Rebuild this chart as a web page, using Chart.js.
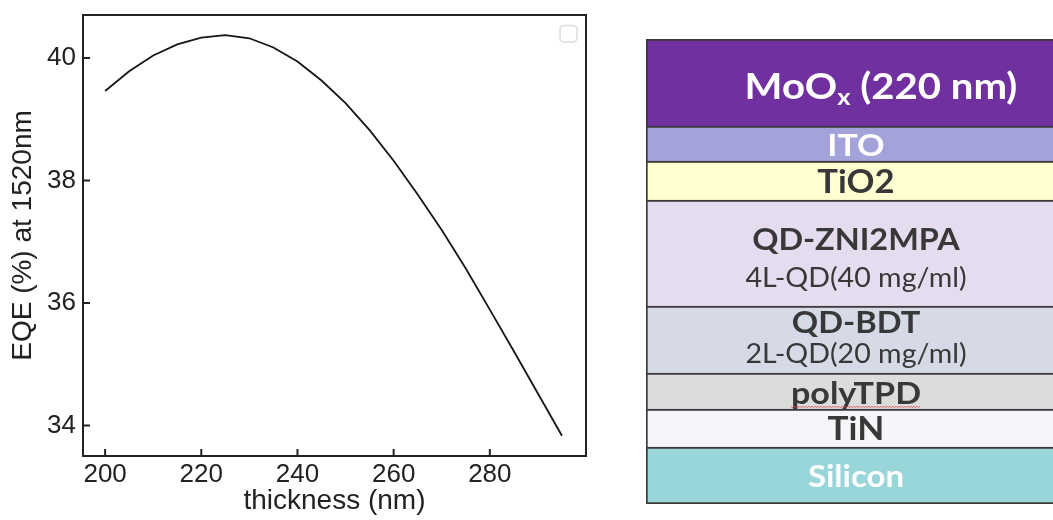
<!DOCTYPE html>
<html>
<head>
<meta charset="utf-8">
<script src="https://cdn.jsdelivr.net/npm/chart.js@4/dist/chart.umd.min.js"></script>
<style>
  html, body { margin: 0; padding: 0; background: #fff; }
  body { width: 1053px; height: 520px; overflow: hidden; position: relative; }
  #plotBox { position: absolute; left: 0; top: 0; width: 600px; height: 520px; }
  #stackBox { position: absolute; left: 646px; top: 0; width: 420px; height: 520px; }
</style>
</head>
<body>
<div id="plotBox"><canvas id="eqeChart" width="600" height="520"></canvas></div>
<div id="stackBox"><canvas id="stackChart" width="420" height="520"></canvas></div>
<script>
// ---- EQE vs MoOx thickness ----
const thickness = [200, 205, 210, 215, 220, 225, 230, 235, 240, 245, 250, 255, 260, 265, 270, 275, 280, 285, 290, 295];
const eqe = [39.46, 39.78, 40.04, 40.22, 40.33, 40.37, 40.32, 40.17, 39.94, 39.63, 39.26, 38.82, 38.32, 37.77, 37.19, 36.56, 35.89, 35.21, 34.52, 33.83];
const xTicks = [200, 220, 240, 260, 280];
const yTicks = [34, 36, 38, 40];
const xTitle = 'thickness (nm)';
const yTitle = 'EQE (%) at 1520nm';

// ---- device layer stack, listed bottom to top ----
const layerNames = ['Silicon', 'TiN', 'polyTPD', 'QD-BDT', 'QD-ZNI2MPA', 'TiO2', 'ITO', 'MoO_x (220 nm)'];
const layerNotes = ['', '', '', '2L-QD(20 mg/ml)', '4L-QD(40 mg/ml)', '', '', ''];
const layerThickness = [57, 38, 36, 67, 106, 39, 35, 87];

// layer styling
const layerFill = ['#99d6d9', '#f6f6fa', '#dcdcda', '#d5dae6', '#e6dcef', '#ffffd2', '#a3a3d9', '#7030a0'];
const layerInk = ['#ffffff', '#383838', '#383838', '#383838', '#383838', '#383838', '#ffffff', '#ffffff'];
const layerFontSize = [30, 32, 31, 29.7, 29.5, 31.5, 31, 36.5];
const noteFontSize = 26;
const textStretch = 1.1;
// [dx of label, dy of name, dy of note] relative to the layer centre
const labelShift = [[0, 1, 0], [0, 0, 0], [0, 2, 0], [0, -17, 14], [0, -14, 25], [0, 1, 0], [0, 1, 0], [25, 3, 0]];
const labelDecor = ['', '', 'wavy', '', '', '', '', ''];

const sansFont = "'Liberation Sans', Arial, sans-serif";
const ink = '#222222';

// frame, inward tick marks and the empty legend box
const framePlugin = {
  id: 'frameTicks',
  afterDraw(chart) {
    const { ctx, chartArea: a, scales } = chart;
    ctx.save();
    ctx.strokeStyle = ink;
    ctx.lineWidth = 2;
    ctx.strokeRect(a.left, a.top, a.right - a.left, a.bottom - a.top);
    ctx.beginPath();
    xTicks.forEach(v => {
      const px = scales.x.getPixelForValue(v);
      ctx.moveTo(px, a.bottom);
      ctx.lineTo(px, a.bottom - 7);
    });
    yTicks.forEach(v => {
      const py = scales.y.getPixelForValue(v);
      ctx.moveTo(a.left, py);
      ctx.lineTo(a.left + 7, py);
    });
    ctx.stroke();
    // empty legend frame
    ctx.strokeStyle = '#dcdcdc';
    ctx.lineWidth = 1.5;
    ctx.beginPath();
    ctx.roundRect(a.right - 26, a.top + 10.5, 17, 16.5, 4);
    ctx.stroke();
    ctx.restore();
  }
};

function noEdgePadding(s) {
  s.paddingTop = 0; s.paddingBottom = 0; s.paddingLeft = 0; s.paddingRight = 0;
}

new Chart(document.getElementById('eqeChart'), {
  type: 'line',
  data: {
    datasets: [{
      data: thickness.map((t, i) => ({ x: t, y: eqe[i] })),
      borderColor: '#151515',
      borderWidth: 1.8,
      pointRadius: 0,
      tension: 0,
      fill: false
    }]
  },
  options: {
    responsive: false,
    animation: false,
    layout: { padding: { top: 15, right: 14, left: 0, bottom: 0 } },
    plugins: { legend: { display: false }, tooltip: { enabled: false } },
    scales: {
      x: {
        type: 'linear',
        min: 195.4,
        max: 300,
        afterBuildTicks: s => { s.ticks = xTicks.map(v => ({ value: v })); },
        afterFit: s => { s.height = 64; noEdgePadding(s); },
        grid: { display: false, drawTicks: false },
        border: { display: false },
        ticks: { padding: 3, color: ink, font: { family: sansFont, size: 26 } },
        title: { display: true, text: xTitle, color: ink, font: { family: sansFont, size: 28 }, padding: { top: 0, bottom: 2 } }
      },
      y: {
        min: 33.5,
        max: 40.7,
        afterBuildTicks: s => { s.ticks = yTicks.map(v => ({ value: v })); },
        afterFit: s => { s.width = 83; noEdgePadding(s); },
        grid: { display: false, drawTicks: false },
        border: { display: false },
        ticks: { padding: 7, color: ink, font: { family: sansFont, size: 26 } },
        title: { display: true, text: yTitle, color: ink, font: { family: sansFont, size: 28 }, padding: { top: 6, bottom: 0 } }
      }
    }
  },
  plugins: [framePlugin]
});

// layer names drawn inside each band of the stack (slightly widened lettering)
function drawText(ctx, text, cx, baseline, font) {
  ctx.font = font;
  const w = ctx.measureText(text).width * textStretch;
  ctx.save();
  ctx.translate(cx - w / 2, baseline);
  ctx.scale(textStretch, 1);
  ctx.textAlign = 'left';
  ctx.fillText(text, 0, 0);
  ctx.restore();
  return w;
}

function drawName(ctx, text, cx, baseline, size) {
  const parts = [];
  const k = text.indexOf('_');
  if (k >= 0) {
    parts.push({ t: text.slice(0, k), s: size, dy: 0 });
    parts.push({ t: text.charAt(k + 1), s: Math.round(size * 0.62), dy: 6 });
    parts.push({ t: text.slice(k + 2), s: size, dy: 0 });
  } else {
    parts.push({ t: text, s: size, dy: 0 });
  }
  let w = 0;
  parts.forEach(p => {
    ctx.font = `bold ${p.s}px Lato, sans-serif`;
    p.w = ctx.measureText(p.t).width * textStretch;
    w += p.w;
  });
  let x = cx - w / 2;
  parts.forEach(p => {
    drawText(ctx, p.t, x + p.w / 2, baseline + p.dy, `bold ${p.s}px Lato, sans-serif`);
    x += p.w;
  });
  return { left: cx - w / 2, right: cx + w / 2 };
}

const layerLabelPlugin = {
  id: 'layerLabels',
  afterDatasetsDraw(chart) {
    const ctx = chart.ctx;
    ctx.save();
    ctx.textBaseline = 'alphabetic';
    chart.data.datasets.forEach((ds, i) => {
      const bar = chart.getDatasetMeta(i).data[0];
      const mid = (bar.y + bar.base) / 2;
      const cx = bar.x + labelShift[i][0];
      const size = layerFontSize[i];
      ctx.fillStyle = layerInk[i];
      const nameBase = mid + labelShift[i][1] + 0.36 * size;
      const span = drawName(ctx, layerNames[i], cx, nameBase, size);
      if (layerNotes[i]) {
        drawText(ctx, layerNotes[i], cx, mid + labelShift[i][2] + 0.36 * noteFontSize, `${noteFontSize}px Lato, sans-serif`);
      }
      if (labelDecor[i] === 'wavy') {
        ctx.strokeStyle = 'rgba(225,70,70,0.85)';
        ctx.lineWidth = 1;
        ctx.beginPath();
        const y0 = nameBase + 2.5;
        let n = 0;
        for (let x = span.left; x <= span.right; x += 1.5, n++) {
          const y = y0 + (n % 2 ? 1 : -0.5);
          if (n === 0) ctx.moveTo(x, y); else ctx.lineTo(x, y);
        }
        ctx.stroke();
      }
    });
    ctx.restore();
  }
};

const stackTotal = layerThickness.reduce((s, v) => s + v, 0);

new Chart(document.getElementById('stackChart'), {
  type: 'bar',
  data: {
    labels: ['stack'],
    datasets: layerNames.map((name, i) => ({
      label: name,
      data: [layerThickness[i]],
      backgroundColor: layerFill[i],
      borderColor: '#3a3a3a',
      borderWidth: 2,
      borderSkipped: i === 0 ? false : 'start',
      barPercentage: 1,
      categoryPercentage: 1
    }))
  },
  options: {
    responsive: false,
    animation: false,
    layout: { padding: { top: 39, bottom: 16, left: 0, right: 0 } },
    plugins: { legend: { display: false }, tooltip: { enabled: false } },
    scales: {
      x: { display: false, stacked: true },
      y: { display: false, stacked: true, min: 0, max: stackTotal }
    }
  },
  plugins: [layerLabelPlugin]
});
</script>
</body>
</html>
